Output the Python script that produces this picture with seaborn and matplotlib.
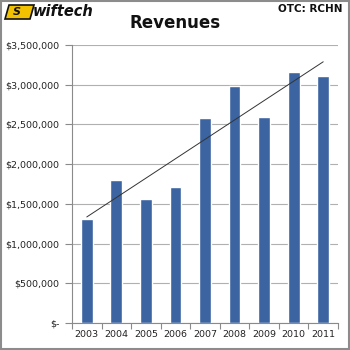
import matplotlib
matplotlib.use("Agg")
import matplotlib.pyplot as plt
import seaborn as sns
import pandas as pd
import numpy as np
from matplotlib.patches import Polygon, Rectangle
from matplotlib.ticker import FuncFormatter, MultipleLocator, FixedLocator

years = ["2003", "2004", "2005", "2006", "2007", "2008", "2009", "2010", "2011"]
revenues = [1306000, 1800000, 1558000, 1709000, 2578000, 2990000, 2594000, 3165000, 3107000]

sns.set_theme(style="white")
plt.rcParams['font.family'] = ['DejaVu Sans']

df = pd.DataFrame({"year": years, "rev": revenues, "pos": np.arange(len(years))})

fig = plt.figure(figsize=(3.5, 3.5), dpi=100)
ax = fig.add_axes([72/350, 1 - 323/350, 266/350, (323 - 45)/350])

sns.barplot(data=df, x="year", y="rev", color="#3B64A0", saturation=1, width=0.4, ax=ax)
sns.regplot(data=df, x="pos", y="rev", scatter=False, ci=None, ax=ax,
            line_kws=dict(color="#333333", lw=0.7))

ax.set_ylim(0, 3500000)
ax.set_xlim(-0.5, len(years) - 0.5)
ax.yaxis.set_major_locator(MultipleLocator(500000))
ax.yaxis.set_major_formatter(FuncFormatter(lambda v, p: "$-" if v == 0 else "${:,.0f}".format(v)))
ax.set_xlabel("")
ax.set_ylabel("")
ax.grid(axis="y", color="#b0b0b0", lw=0.8)
ax.set_axisbelow(True)
for s in ["top", "right"]:
    ax.spines[s].set_visible(False)
for s in ["left", "bottom"]:
    ax.spines[s].set_color("#8a8a8a")
    ax.spines[s].set_linewidth(0.8)

ax.tick_params(axis="y", which="major", left=True, length=5, width=0.8, color="#8a8a8a",
               labelsize=6.8, labelcolor="#222222", pad=4)
ax.tick_params(axis="x", which="major", bottom=False, length=0, labelsize=6.8, labelcolor="#222222", pad=5)
ax.xaxis.set_minor_locator(FixedLocator(np.arange(-0.5, len(years), 1.0)))
ax.tick_params(axis="x", which="minor", bottom=True, length=4, width=0.8, color="#8a8a8a")

fig.text(0.5, 1 - 23/350, "Revenues", ha="center", va="center", fontsize=12, fontweight="bold", color="#111111")
fig.text(1 - 8/350, 1 - 9/350, "OTC: RCHN", ha="right", va="center", fontsize=7.5, fontweight="bold", color="#111111")

# logo
logo = Polygon([[5/350, 1 - 19/350], [9/350, 1 - 5/350], [34/350, 1 - 5/350], [30/350, 1 - 19/350]],
               closed=True, transform=fig.transFigure, facecolor="#F2C200", edgecolor="#111111", lw=1.2)
fig.patches.append(logo)
fig.text(13/350, 1 - 12/350, "S", ha="left", va="center", fontsize=8, fontweight="bold",
         fontstyle="italic", color="#111111")
fig.text(33/350, 1 - 12/350, "wiftech", ha="left", va="center", fontsize=10.5, fontweight="bold",
         fontstyle="italic", color="#111111")

fig.patches.append(Rectangle((0.002, 0.002), 0.996, 0.996, transform=fig.transFigure,
                             fill=False, edgecolor="#8c8c8c", lw=1.5))

fig.savefig("out.png", dpi=100)
